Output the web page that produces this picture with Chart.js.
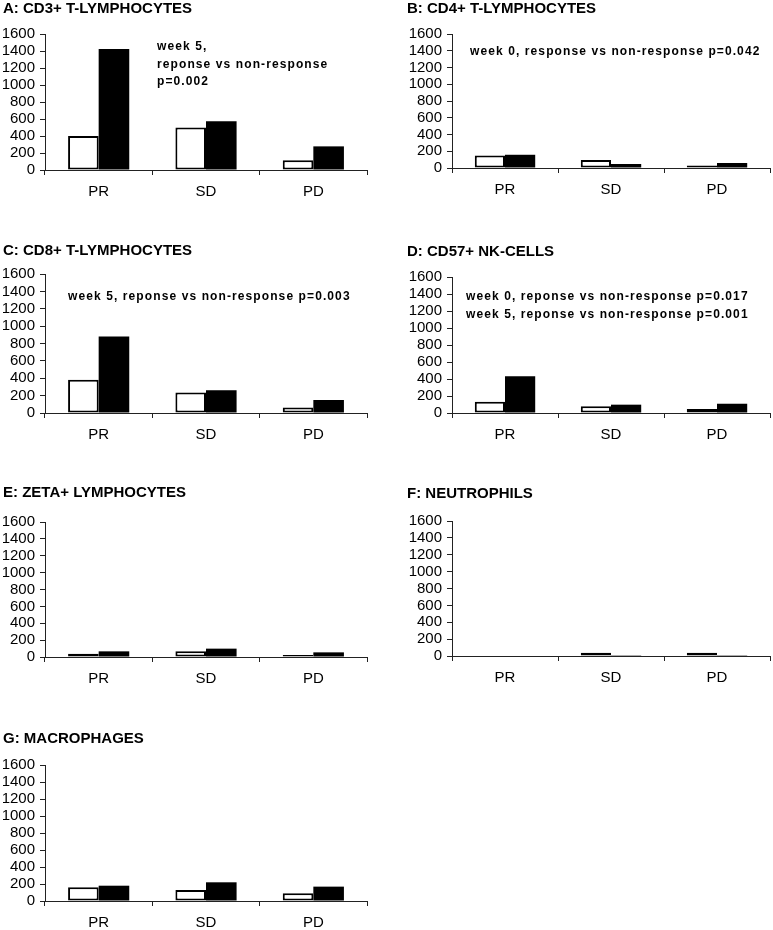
<!DOCTYPE html>
<html>
<head>
<meta charset="utf-8">
<script src="https://cdn.jsdelivr.net/npm/chart.js@4.4.0/dist/chart.umd.min.js"></script>
<style>
  body { margin: 0; background: #fff; width: 773px; height: 930px; overflow: hidden; position: relative; }
  canvas { position: absolute; }
</style>
</head>
<body>
<canvas id="cd3Chart" width="367" height="202" style="left:3px;top:0px"></canvas>
<canvas id="cd4Chart" width="366" height="200" style="left:407px;top:0px"></canvas>
<canvas id="cd8Chart" width="367" height="203" style="left:3px;top:242px"></canvas>
<canvas id="cd57Chart" width="366" height="202" style="left:407px;top:243px"></canvas>
<canvas id="zetaChart" width="367" height="205" style="left:3px;top:484px"></canvas>
<canvas id="neutroChart" width="366" height="203" style="left:407px;top:485px"></canvas>
<canvas id="macroChart" width="367" height="203" style="left:3px;top:730px"></canvas>
<script>
const groups = ['PR', 'SD', 'PD'];
const yMin = 0;
const yMax = 1600;
const yStep = 200;

const cd3Week0 = [400, 500, 115];
const cd3Week5 = [1425, 575, 278];
const cd4Week0 = [150, 95, 30];
const cd4Week5 = [158, 48, 60];
const cd8Week0 = [382, 235, 62];
const cd8Week5 = [880, 262, 150];
const cd57Week0 = [133, 78, 47];
const cd57Week5 = [433, 98, 109];
const zetaWeek0 = [40, 67, 24];
const zetaWeek5 = [67, 99, 55];
const neutroWeek0 = [0, 40, 40];
const neutroWeek5 = [0, 2, 2];
const macroWeek0 = [161, 129, 90];
const macroWeek5 = [180, 220, 169];

const cd3Notes = ['week 5,', 'reponse vs non-response', 'p=0.002'];
const cd4Notes = ['week 0, response vs non-response p=0.042'];
const cd8Notes = ['week 5, reponse vs non-response p=0.003'];
const cd57Notes = ['week 0, reponse vs non-response p=0.017', 'week 5, reponse vs non-response p=0.001'];

Chart.defaults.font.family = '"Liberation Sans", Arial, sans-serif';
Chart.defaults.font.size = 15;
Chart.defaults.color = '#000';

// small text block inside the plot area
const panelNotes = {
    id: 'panelNotes',
    afterDraw(chart, args, opts) {
        if (!opts.lines || !opts.lines.length) return;
        const ctx = chart.ctx;
        const area = chart.chartArea;
        ctx.save();
        ctx.font = 'bold 12px "Liberation Sans", Arial, sans-serif';
        ctx.letterSpacing = '1.1px';
        ctx.fillStyle = '#000';
        ctx.textBaseline = 'middle';
        opts.lines.forEach(function (line, i) {
            ctx.fillText(line, area.left + opts.x, area.top + opts.y + i * opts.gap);
        });
        ctx.restore();
    }
};

function makePanel(id, title, week0, week5, notes, notePos, titleGap, axisWidth) {
    const canvas = document.getElementById(id);
    if (!canvas) return;
    new Chart(canvas.getContext('2d'), {
        type: 'bar',
        data: {
            labels: groups,
            datasets: [{
                label: 'week 0',
                data: week0,
                backgroundColor: '#fff',
                borderColor: '#000',
                borderWidth: 2,
                borderSkipped: false
            }, {
                label: 'week 5',
                data: week5,
                backgroundColor: '#000',
                borderColor: '#000',
                borderWidth: 0
            }]
        },
        options: {
            responsive: false,
            animation: false,
            categoryPercentage: 0.57,
            barPercentage: 1.0,
            layout: { padding: { left: 0, right: 3, top: 0, bottom: 0 } },
            scales: {
                x: {
                    afterFit: function (scale) { scale.height = 32; },
                    grid: { display: true, drawOnChartArea: false, tickLength: 5, color: '#222', offset: true },
                    border: { display: true, color: '#222', width: 1 },
                    ticks: { padding: 8, font: { size: 15 } }
                },
                y: {
                    min: yMin,
                    max: yMax,
                    afterFit: function (scale) { scale.width = axisWidth; },
                    ticks: {
                        stepSize: yStep,
                        autoSkip: false,
                        padding: 5,
                        font: { size: 15 },
                        callback: function (value) { return String(value); }
                    },
                    grid: { display: true, drawOnChartArea: false, tickLength: 5, color: '#222' },
                    border: { display: true, color: '#222', width: 1 }
                }
            },
            plugins: {
                legend: { display: false },
                tooltip: { enabled: false },
                title: {
                    display: true,
                    text: title,
                    align: 'start',
                    color: '#000',
                    font: { size: 15, weight: 'bold' },
                    padding: { top: 0, bottom: titleGap }
                },
                panelNotes: { lines: notes, x: notePos[0], y: notePos[1], gap: notePos[2] }
            }
        },
        plugins: [panelNotes]
    });
}

document.addEventListener('DOMContentLoaded', function () {
    if (typeof Chart === 'undefined') return;
    makePanel('cd3Chart', 'A: CD3+ T-LYMPHOCYTES', cd3Week0, cd3Week5, cd3Notes, [112, 13, 17.5], 16, 42);
    makePanel('cd4Chart', 'B: CD4+ T-LYMPHOCYTES', cd4Week0, cd4Week5, cd4Notes, [18, 18, 18], 16, 45);
    makePanel('cd8Chart', 'C: CD8+ T-LYMPHOCYTES', cd8Week0, cd8Week5, cd8Notes, [23, 23, 18], 14, 42);
    makePanel('cd57Chart', 'D: CD57+ NK-CELLS', cd57Week0, cd57Week5, cd57Notes, [14, 20, 18], 16, 45);
    makePanel('zetaChart', 'E: ZETA+ LYMPHOCYTES', zetaWeek0, zetaWeek5, [], [0, 0, 0], 20, 42);
    makePanel('neutroChart', 'F: NEUTROPHILS', neutroWeek0, neutroWeek5, [], [0, 0, 0], 18, 45);
    makePanel('macroChart', 'G: MACROPHAGES', macroWeek0, macroWeek5, [], [0, 0, 0], 17, 42);
});
</script>
</body>
</html>
